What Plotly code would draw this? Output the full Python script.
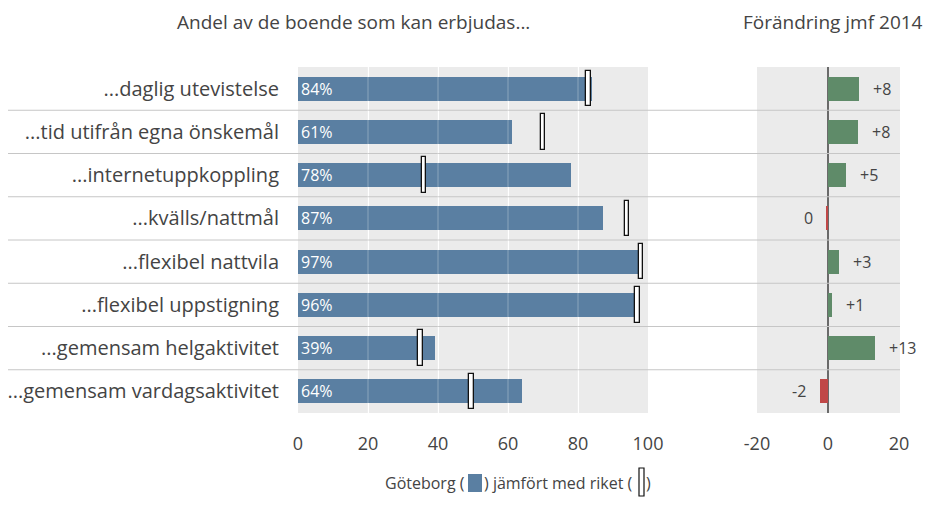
import plotly.graph_objects as go

# Kategorier (uppifrån och ned)
categories = [
    '...daglig utevistelse',
    '...tid utifrån egna önskemål',
    '...internetuppkoppling',
    '...kvälls/nattmål',
    '...flexibel nattvila',
    '...flexibel uppstigning',
    '...gemensam helgaktivitet',
    '...gemensam vardagsaktivitet',
]

# Göteborg, andel (%)
goteborg = [84, 61, 78, 87, 97, 96, 39, 64]
# Riket, andel (%)
riket = [83, 70, 36, 94, 98, 97, 35, 49.5]

# Förändring jmf 2014 (procentenheter)
change = [8.7, 8.4, 5.1, -0.3, 3.1, 1.2, 13.2, -2.2]
change_labels = ['+8', '+8', '+5', '0', '+3', '+1', '+13', '-2']

left_ticks = [0, 20, 40, 60, 80, 100]
right_ticks = [-20, 0, 20]
right_ticktext = ['-20', '0', '20']

BLUE = '#5a7fa2'
GREEN = '#5f8b69'
RED = '#c04848'
BG = '#ebebeb'
TXT = '#444444'
FONT = 'Open Sans'

W, H = 934, 505
OFF = 8  # sidans marginal i webbläsaren


def px_x(p):
    return (p - OFF) / W


def px_y(p):
    return 1 - (p - OFF) / H


fig = go.Figure()

# Göteborg-staplar
fig.add_trace(go.Bar(
    y=categories, x=goteborg, orientation='h', width=0.55,
    marker=dict(color=BLUE, line=dict(width=0)),
    xaxis='x', yaxis='y', hoverinfo='skip', showlegend=False,
))

# Riket-markörer (smal vit rektangel med svart kant)
fig.add_trace(go.Bar(
    y=categories, x=[1.3] * len(riket), base=[r - 0.65 for r in riket],
    orientation='h', width=0.82,
    marker=dict(color='white', line=dict(color='#111111', width=1.3)),
    xaxis='x', yaxis='y', hoverinfo='skip', showlegend=False,
))

# Procentetiketter i staplarna
for cat, val in zip(categories, goteborg):
    fig.add_annotation(
        x=0, y=cat, xref='x', yref='y', text=f'{val}%', showarrow=False,
        xanchor='left', yanchor='middle', xshift=1,
        font=dict(size=16, color='white', family=FONT),
    )

# Förändringsstaplar
fig.add_trace(go.Bar(
    y=categories, x=change, orientation='h', width=0.55,
    marker=dict(color=[GREEN if c > 0 else RED for c in change], line=dict(width=0)),
    xaxis='x2', yaxis='y2', hoverinfo='skip', showlegend=False,
))

for cat, val, lab in zip(categories, change, change_labels):
    fig.add_annotation(
        x=val, y=cat, xref='x2', yref='y2', text=lab, showarrow=False,
        xanchor='left' if val > 0 else 'right', yanchor='middle',
        xshift=12 if val > 0 else -12,
        font=dict(size=16, color=TXT, family=FONT),
    )

# Radavgränsare
for i in range(1, len(categories)):
    fig.add_shape(type='line', xref='paper', yref='y', x0=px_x(0), x1=px_x(900),
                  y0=i - 0.5, y1=i - 0.5, line=dict(color='#c6c6c6', width=1),
                  layer='above')

# Svaga rutnätslinjer över staplarna
for t in left_ticks[1:-1]:
    fig.add_shape(type='line', xref='x', yref='paper', x0=t, x1=t,
                  y0=px_y(413), y1=px_y(67),
                  line=dict(color='rgba(255,255,255,0.3)', width=1), layer='above')

# Rubriker
title_font = dict(size=19, color=TXT, family=FONT)
fig.add_annotation(x=px_x(353), y=px_y(22), xref='paper', yref='paper',
                   text='Andel av de boende som kan erbjudas...', showarrow=False,
                   xanchor='center', yanchor='middle', font=title_font)
fig.add_annotation(x=px_x(833), y=px_y(22), xref='paper', yref='paper',
                   text='Förändring jmf 2014', showarrow=False,
                   xanchor='center', yanchor='middle', font=title_font)

# Teckenförklaring
leg_font = dict(size=16, color=TXT, family=FONT)
fig.add_annotation(x=px_x(467), y=px_y(483), xref='paper', yref='paper',
                   text='Göteborg (', showarrow=False, xanchor='right',
                   yanchor='middle', font=leg_font)
fig.add_annotation(x=px_x(482), y=px_y(483), xref='paper', yref='paper',
                   text=') jämfört med riket (', showarrow=False, xanchor='left',
                   yanchor='middle', font=leg_font)
fig.add_annotation(x=px_x(644), y=px_y(483), xref='paper', yref='paper',
                   text=')', showarrow=False, xanchor='left', yanchor='middle',
                   font=leg_font)
fig.add_shape(type='rect', xref='paper', yref='paper',
              x0=px_x(468), x1=px_x(482), y0=px_y(492), y1=px_y(474),
              fillcolor=BLUE, line=dict(width=0))
fig.add_shape(type='rect', xref='paper', yref='paper',
              x0=px_x(639), x1=px_x(644), y0=px_y(496), y1=px_y(468),
              fillcolor='white', line=dict(color='#111111', width=1.2))

ydom = [px_y(413), px_y(67)]

fig.update_layout(
    width=W, height=H,
    margin=dict(l=0, r=0, t=0, b=0, pad=0, autoexpand=False),
    paper_bgcolor='white', plot_bgcolor=BG,
    barmode='overlay', bargap=0,
    font=dict(family=FONT, color=TXT),
    xaxis=dict(domain=[px_x(298), px_x(648)], range=[0, 100], tickvals=left_ticks,
               showgrid=True, gridcolor='white', gridwidth=1, zeroline=False,
               showline=False, ticks='', tickfont=dict(size=18, color=TXT),
               ticklabelstandoff=18, automargin=False, fixedrange=True),
    yaxis=dict(domain=ydom, categoryorder='array', categoryarray=categories,
               autorange='reversed', showgrid=False, zeroline=False, ticks='',
               tickfont=dict(size=20, color=TXT), ticklabelstandoff=18,
               automargin=False),
    xaxis2=dict(domain=[px_x(757), px_x(900)], range=[-20, 20.3],
                tickvals=right_ticks, ticktext=right_ticktext,
                showgrid=False, zeroline=True, zerolinecolor='#6a6a6a', zerolinewidth=1.5,
                showline=False, ticks='', tickfont=dict(size=18, color=TXT),
                ticklabelstandoff=18, automargin=False, anchor='y2'),
    yaxis2=dict(domain=ydom, categoryorder='array', categoryarray=categories,
                autorange='reversed', showgrid=False, zeroline=False,
                showticklabels=False, automargin=False, anchor='x2'),
)

fig.write_html('out.html')
